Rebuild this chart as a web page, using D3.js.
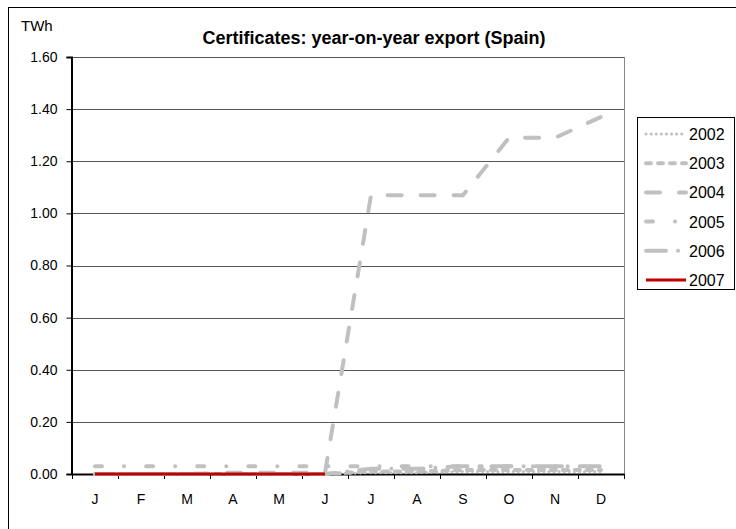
<!DOCTYPE html>
<html><head><meta charset="utf-8">
<script src="https://cdn.jsdelivr.net/npm/d3@7"></script>
<style>body{margin:0;background:#fff;}svg{display:block;font-family:"Liberation Sans",Arial,sans-serif;}</style>
</head><body>
<svg id="c" width="736" height="529"></svg>
<script>
const months = ["J","F","M","A","M","J","J","A","S","O","N","D"];
const yTicks = [0,0.2,0.4,0.6,0.8,1.0,1.2,1.4,1.6];
const seriesNames = ["2002","2003","2004","2005","2006","2007"];
const v2002 = [0,0,0,0,0,0,0.005,0.005,0.01,0.01,0.01,0.01];
const v2003 = [0,0,0,0,0,0,0.01,0.01,0.015,0.015,0.015,0.015];
const v2004 = [0,0,0,0.005,0.005,0.005,1.07,1.07,1.07,1.29,1.29,1.37];
const v2005 = [0.03,0.03,0.03,0.03,0.03,0.03,0.03,0.03,0.03,0.03,0.03,0.03];
const v2006 = [0,0,0,0,0,0,0.02,0.02,0.03,0.03,0.03,0.03];
const v2007 = [0,0,0,0,0,0];
const seriesValues = [v2002,v2003,v2004,v2005,v2006,v2007];
const styles = [
  {c:"#c0c0c0",w:3,d:"0.1 5"},
  {c:"#c0c0c0",w:4,d:"5 7"},
  {c:"#c0c0c0",w:4,d:"14 19"},
  {c:"#c0c0c0",w:4,d:"7 22 0.1 22"},
  {c:"#c0c0c0",w:4,d:"20 12 0.1 12"},
  {c:"#c00000",w:3,d:null}
];
const FONT = "Liberation Sans, Arial, sans-serif";

const svg = d3.select("#c");
svg.append("rect").attr("x",8.5).attr("y",7.5).attr("width",740).attr("height",540)
  .attr("fill","none").attr("stroke","#000").attr("stroke-width",1);

const L=72,R=624,T=57,B=474;
const x = d3.scaleBand().domain(d3.range(12)).range([L,R]);
const y = d3.scaleLinear().domain([0,1.6]).range([B,T]);

// gridlines
svg.append("g").selectAll("line").data(yTicks.filter(t=>t>0)).join("line")
  .attr("x1",L).attr("x2",R).attr("y1",d=>Math.round(y(d))+0.5).attr("y2",d=>Math.round(y(d))+0.5)
  .attr("stroke","#555").attr("stroke-width",1);
svg.append("line").attr("x1",R+0.5).attr("x2",R+0.5).attr("y1",T).attr("y2",B).attr("stroke","#888");

// y axis
const ya = svg.append("g").attr("transform",`translate(${L-0.5},0)`)
  .call(d3.axisLeft(y).tickValues(yTicks).tickFormat(d3.format(".2f")).tickSize(5).tickPadding(9));
ya.select(".domain").attr("stroke","#000").attr("stroke-width",2);
ya.selectAll("text").attr("font-size",14).attr("fill","#000").attr("font-family",FONT);

// x axis
const xt = d3.scaleLinear().domain([0,12]).range([L,R]);
const xa = svg.append("g").attr("transform",`translate(0,${B})`)
  .call(d3.axisBottom(xt).tickValues(d3.range(13)).tickFormat("").tickSize(5).tickSizeOuter(0));
xa.select(".domain").attr("stroke","#000").attr("stroke-width",2);
svg.append("g").selectAll("text").data(months).join("text")
  .attr("x",(d,i)=>x(i)+x.bandwidth()/2).attr("y",B+30).attr("text-anchor","middle")
  .attr("font-size",14).text(d=>d);

// lines
const line = d3.line().x((d,i)=>x(i)+x.bandwidth()/2).y(d=>y(d));
seriesValues.forEach((vals,k)=>{
  const s=styles[k];
  svg.append("path").datum(vals).attr("d",line).attr("fill","none")
    .attr("stroke",s.c).attr("stroke-width",s.w).attr("stroke-linecap", s.d?"round":"butt")
    .attr("stroke-dasharray",s.d);
});

// title
svg.append("text").attr("x",374).attr("y",44).attr("text-anchor","middle")
  .attr("font-size",18).attr("font-weight","bold").text("Certificates: year-on-year export (Spain)");
svg.append("text").attr("x",21).attr("y",31).attr("font-size",15).text("TWh");

// legend
svg.append("rect").attr("x",637.5).attr("y",117.5).attr("width",97).attr("height",172)
  .attr("fill","#fff").attr("stroke","#000");
seriesNames.forEach((n,k)=>{
  const s=styles[k]; const yy=134+k*29.2;
  svg.append("line").attr("x1",646).attr("x2",686).attr("y1",yy).attr("y2",yy)
    .attr("stroke",s.c).attr("stroke-width",s.w).attr("stroke-linecap",s.d?"round":"butt").attr("stroke-dasharray",s.d);
  svg.append("text").attr("x",689).attr("y",yy+6).attr("font-size",16).text(n);
});
</script>
</body></html>
